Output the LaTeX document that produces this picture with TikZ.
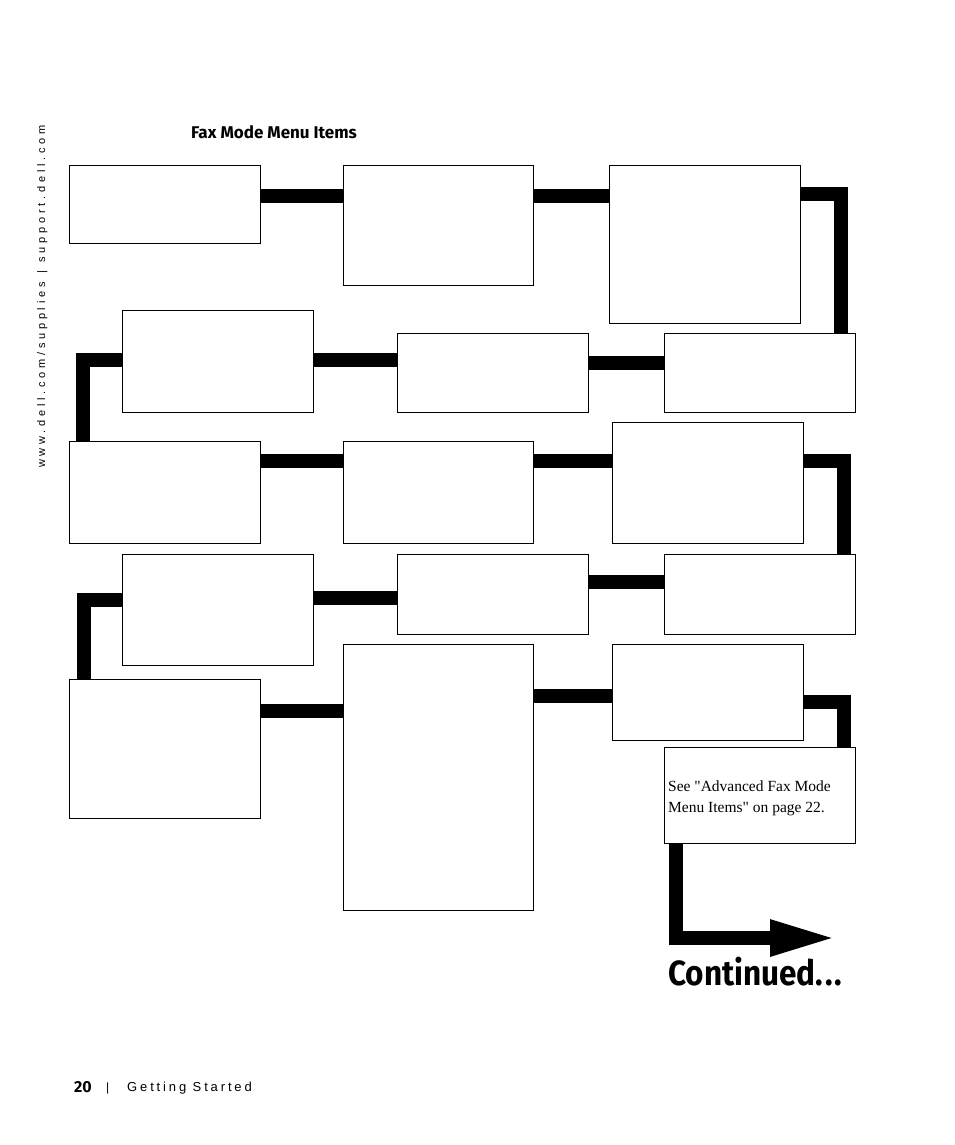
\documentclass[tikz,border=0pt]{standalone}
\usepackage{fontspec}
\setmainfont{Liberation Serif}[Ligatures=TeXOff]
\setsansfont{Fira Sans}
\newfontfamily\sidefont[LetterSpace=34]{Liberation Sans}
\newfontfamily\footfont[LetterSpace=22]{Liberation Sans}
\usetikzlibrary{arrows.meta}
\begin{document}
\begin{tikzpicture}[x=1pt,y=-1pt,
  box/.style={draw,line width=1pt,fill=white,anchor=north west,inner sep=0pt,outer sep=0pt},
  conn/.style={line width=14pt,line join=miter},
  lbl/.style={inner sep=0pt,anchor=base west}]
\useasboundingbox (0,0) rectangle (954,1145);
% boxes
\node[box,minimum width=191pt,minimum height=78pt] (A) at (69,165) {};
\node[box,minimum width=190pt,minimum height=120pt] (B) at (343,165) {};
\node[box,minimum width=191pt,minimum height=158pt] (C) at (609,165) {};
\node[box,minimum width=191pt,minimum height=102pt] (D) at (122,310) {};
\node[box,minimum width=191pt,minimum height=79pt] (E) at (397,333) {};
\node[box,minimum width=191pt,minimum height=79pt] (F) at (664,333) {};
\node[box,minimum width=191pt,minimum height=102pt] (G) at (69,441) {};
\node[box,minimum width=190pt,minimum height=102pt] (H) at (343,441) {};
\node[box,minimum width=191pt,minimum height=121pt] (I) at (612,422) {};
\node[box,minimum width=191pt,minimum height=111pt] (J) at (122,554) {};
\node[box,minimum width=191pt,minimum height=80pt] (K) at (397,554) {};
\node[box,minimum width=191pt,minimum height=80pt] (L) at (664,554) {};
\node[box,minimum width=191pt,minimum height=139pt] (M) at (69,679) {};
\node[box,minimum width=190pt,minimum height=266pt] (N) at (343,644) {};
\node[box,minimum width=191pt,minimum height=96pt] (O) at (612,644) {};
\node[box,minimum width=191pt,minimum height=96pt] (P) at (664,747) {};
\node[lbl,font=\fontsize{15.5}{21}\selectfont,align=left,anchor=north west] (Ptext) at (668,781)
  {See "Advanced Fax Mode\\Menu Items" on page 22.};
% connectors
\draw[conn] (A.east |- 0,195.5) -- (B.west |- 0,195.5);
\draw[conn] (B.east |- 0,195.5) -- (C.west |- 0,195.5);
\draw[conn] (C.east |- 0,194) -| (F.north -| 841,0);
\draw[conn] (D.east |- 0,359.5) -- (E.west |- 0,359.5);
\draw[conn] (E.east |- 0,362.5) -- (F.west |- 0,362.5);
\draw[conn] (D.west |- 0,359.5) -| (G.north -| 83,0);
\draw[conn] (G.east |- 0,460.5) -- (H.west |- 0,460.5);
\draw[conn] (H.east |- 0,460.5) -- (I.west |- 0,460.5);
\draw[conn] (I.east |- 0,460.5) -| (L.north -| 844,0);
\draw[conn] (J.east |- 0,597.5) -- (K.west |- 0,597.5);
\draw[conn] (K.east |- 0,581.5) -- (L.west |- 0,581.5);
\draw[conn] (J.west |- 0,599.5) -| (M.north -| 84,0);
\draw[conn] (M.east |- 0,710.5) -- (N.west |- 0,710.5);
\draw[conn] (N.east |- 0,695.5) -- (O.west |- 0,695.5);
\draw[conn] (O.east |- 0,701.5) -| (P.north -| 844,0);
\coordinate (arrowend) at (837,938);
\draw[conn,-{Triangle[length=67pt,width=33pt]}] (P.south -| 676,0) |- (arrowend);
% texts
\node[lbl,font=\sffamily\bfseries\fontsize{17}{19}\selectfont] (title) at (191,139) {Fax Mode Menu Items};
\node[lbl,font=\sffamily\bfseries\fontsize{35}{40}\selectfont] (cont) at (668,985) {\scalebox{0.9}[1]{Continued.\kern2pt.\kern2pt.}};
\node[inner sep=0pt,rotate=90,anchor=base west,font=\sidefont\fontsize{11}{12}\selectfont] (side) at (45,468) {www.dell.com/supplies \,|\, support.dell.com};
\node[lbl,font=\sffamily\bfseries\fontsize{16}{18}\selectfont] (pg) at (74,1092) {20};
\node[lbl,font=\footfont\fontsize{12}{14}\selectfont] (bar) at (106,1091) {|};
\node[lbl,font=\footfont\fontsize{13}{15}\selectfont] (foot) at (127,1091) {Getting Started};
\end{tikzpicture}
\end{document}
